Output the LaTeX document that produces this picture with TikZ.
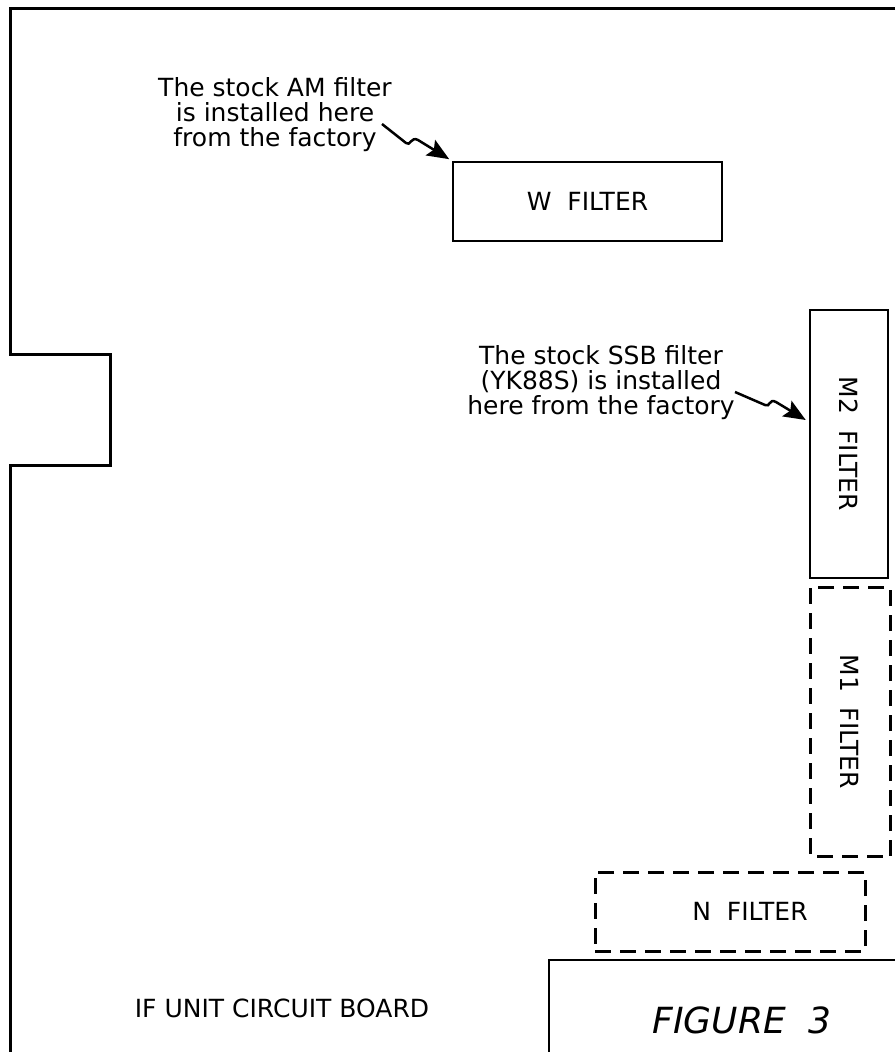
\documentclass[tikz,border=0pt]{standalone}
\usepackage{fontspec}
\setmainfont{DejaVu Sans}
\usetikzlibrary{calc}
\usetikzlibrary{arrows.meta}

\begin{document}
\begin{tikzpicture}[x=1pt, y=-1pt,
        every node/.style={inner sep=0pt, font=\fontsize{25}{25}\selectfont},
        fitted/.style={draw, line width=2.5pt},
        spare/.style={draw, line width=3pt, dash pattern=on 16pt off 9pt},
        pointer/.style={line width=2.5pt, -{Stealth[length=22pt, width=18pt, inset=4pt]}}]
        \useasboundingbox (0,0) rectangle (895,1052);

        % board outline and title block
        \draw[line width=3pt] (895,8) -- (10,8) -- (10,354) -- (110,354) -- (110,465) -- (10,465) -- (10,1052);
        \draw[line width=2.5pt] (549,1052) -- (549,960) -- (895,960);
        \node (board) at (282,1008) {IF UNIT CIRCUIT BOARD};
        \node[font=\fontsize{36}{40}\selectfont\itshape] (figure) at (742,1020) {FIGURE~~3};

        % filter positions
        \node[fitted, minimum width=269, minimum height=79] (wfilter) at (587.5,201.5) {W~~FILTER};
        \node[fitted, rotate=-90, minimum width=268, minimum height=78] (mtwo) at (849,444) {M2~~FILTER};
        \node[spare, rotate=-90, minimum width=269, minimum height=80] (mone) at (850,721.5) {M1~~FILTER};
        \node[spare, minimum width=270, minimum height=79] (nfilter) at (730,911.5) {\hspace*{40pt}N~~FILTER};

        % notes
        \node[align=center] (amnote) at (275,115) {The stock AM filter\\is installed here\\from the factory};
        \coordinate (am tail) at (382,124);

        \node[align=center] (ssbnote) at (601,383) {The stock SSB filter\\(YK88S) is installed\\here from the factory};
        \coordinate (ssb tail) at (735,392);

        \draw[pointer, shorten >=3pt] (am tail) -- (406,143) .. controls (410,147) and (411,136) .. (418,140) -- (wfilter.north west);
        \draw[pointer] (ssb tail) -- (765,405) .. controls (770,408) and (769,398) .. (776,402) -- ($(mtwo.south)+(-3,-24)$);
\end{tikzpicture}
\end{document}
